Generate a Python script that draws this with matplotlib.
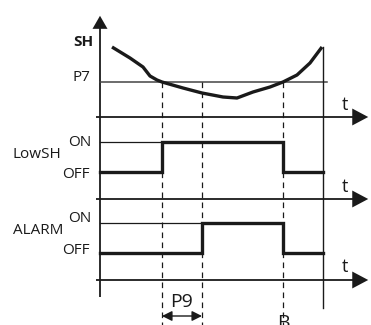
import matplotlib
matplotlib.use("Agg")
import matplotlib.pyplot as plt
from matplotlib.patches import FancyArrowPatch

plt.rcParams['font.family'] = ['Open Sans', 'DejaVu Sans']

# --- data (schematic units: x = time, y = screen position, downward) ---
curve_t = [112, 130, 143, 150, 157, 162, 183, 202, 223, 237, 253, 270, 283, 297, 310, 322]
curve_sh = [47, 58, 67, 76, 80, 82, 88, 93, 97, 98, 92, 87, 82, 75, 63, 47]
p7_level = 82

t_axis0 = 100
t_on = 162      # SH falls below P7
t_alarm = 202   # after P9 delay
t_B = 283       # SH rises above P7
t_end = 323

lowsh_t = [t_axis0, t_on, t_on, t_B, t_B, t_end]
lowsh_state = [0, 0, 1, 1, 0, 0]
alarm_t = [t_axis0, t_alarm, t_alarm, t_B, t_B, t_end]
alarm_state = [0, 0, 1, 1, 0, 0]

# panel geometry
lowsh_on_y, lowsh_off_y = 142, 172
alarm_on_y, alarm_off_y = 223, 253
t_axes_y = [117, 199, 280]

fig = plt.figure(figsize=(3.71, 3.25), dpi=100)
ax = fig.add_axes([0, 0, 1, 1])
ax.set_xlim(0, 371)
ax.set_ylim(325, 0)
ax.axis('off')

k = '#1a1a1a'

# vertical axis with arrow
ax.plot([t_axis0, t_axis0], [297, 24], color=k, lw=1.3, solid_capstyle='butt')
ax.add_patch(FancyArrowPatch((t_axis0, 30), (t_axis0, 13), arrowstyle='-|>,head_length=0.94,head_width=0.54',
                             mutation_scale=10, color=k, lw=0))
# time axes
for ty in t_axes_y:
    ax.plot([96, 358], [ty, ty], color=k, lw=1.3, solid_capstyle='butt')
    ax.add_patch(FancyArrowPatch((352, ty), (371, ty), arrowstyle='-|>,head_length=1.0,head_width=0.53',
                                 mutation_scale=11.5, color=k, lw=0))
    ax.text(345, ty - 12.5, 't', fontsize=13, ha='center', va='center', color=k)

# P7 line
ax.plot([t_axis0, 327], [p7_level, p7_level], color='#444444', lw=1.1)

# dashed markers
for x in (t_on, t_alarm, t_B):
    ax.plot([x, x], [p7_level, 325], color=k, lw=0.9, dashes=(4.5, 3.5))
ax.plot([t_end, t_end], [47, 308], color=k, lw=1.0)

# SH curve
ax.plot(curve_t, curve_sh, color=k, lw=2.4, solid_joinstyle='round', solid_capstyle='butt')

# ON reference lines
ax.plot([t_axis0, t_on], [lowsh_on_y, lowsh_on_y], color=k, lw=0.9)
ax.plot([t_axis0, t_alarm], [alarm_on_y, alarm_on_y], color=k, lw=0.9)

# digital signals
def lvl(states, on_y, off_y):
    return [on_y if s else off_y for s in states]

ax.plot(lowsh_t, lvl(lowsh_state, lowsh_on_y, lowsh_off_y), color=k, lw=2.4, solid_joinstyle='miter')
ax.plot(alarm_t, lvl(alarm_state, alarm_on_y, alarm_off_y), color=k, lw=2.4, solid_joinstyle='miter')

# labels
fs = 11
ax.text(93, 42, 'SH', fontsize=fs, fontweight='bold', ha='right', va='center', color=k)
ax.text(90, 77.5, 'P7', fontsize=fs, ha='right', va='center', color=k)
ax.text(91, 142.5, 'ON', fontsize=fs, ha='right', va='center', color=k)
ax.text(61, 155, 'LowSH', fontsize=fs, ha='right', va='center', color=k)
ax.text(90, 174, 'OFF', fontsize=fs, ha='right', va='center', color=k)
ax.text(91, 218, 'ON', fontsize=fs, ha='right', va='center', color=k)
ax.text(63, 231, 'ALARM', fontsize=fs, ha='right', va='center', color=k)
ax.text(90, 251, 'OFF', fontsize=fs, ha='right', va='center', color=k)

# P9 dimension
ax.add_patch(FancyArrowPatch((t_on, 316), (t_alarm, 316), arrowstyle='<|-|>,head_length=0.5,head_width=0.25',
                             mutation_scale=12, color=k, lw=1.0, shrinkA=0, shrinkB=0))
ax.text((t_on + t_alarm) / 2, 302, 'P9', fontsize=14, ha='center', va='center', color=k)
ax.text(t_B, 314, 'B', fontsize=14, ha='center', va='top', color=k)

fig.savefig('out.png', dpi=100)
